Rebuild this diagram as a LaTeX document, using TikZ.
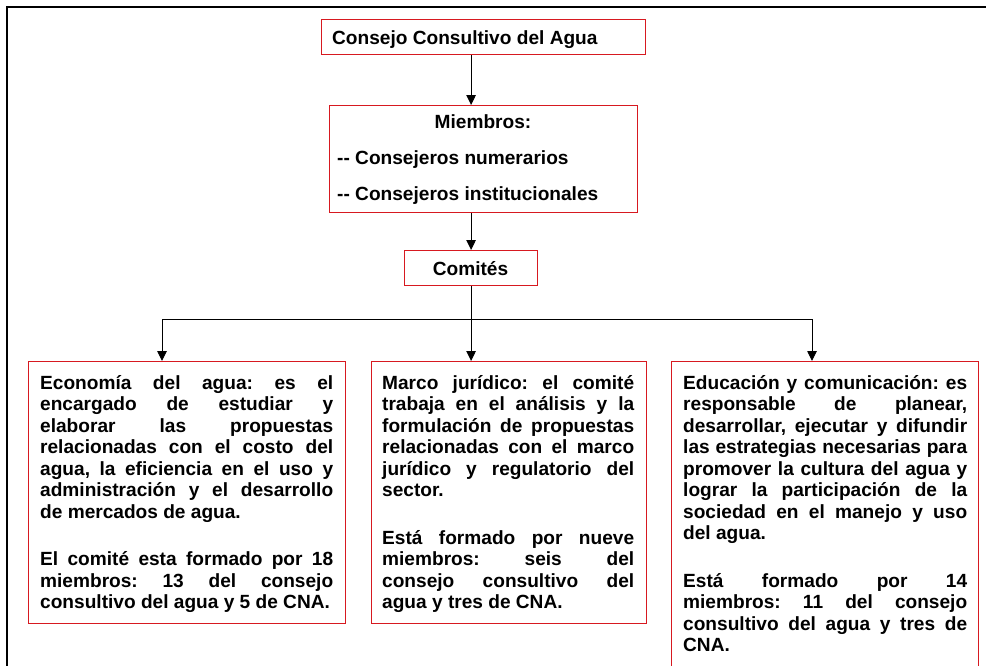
\documentclass[tikz,border=0pt]{standalone}
\usepackage{fontspec}
\setmainfont{Liberation Sans}
\usetikzlibrary{arrows.meta}
\definecolor{boxred}{RGB}{215,25,32}
\newcommand\cbfont{\fontsize{19.1}{21.5}\selectfont\bfseries\frenchspacing\hyphenpenalty=10000\exhyphenpenalty=10000\tolerance=10000\parindent=0pt}
\newcommand\pgap{\par\vspace{26pt}}
\begin{document}
\begin{tikzpicture}[x=1pt,y=-1pt,
  rbox/.style={draw=boxred,line width=1.2pt,inner sep=0pt,anchor=north west},
  txt/.style={inner sep=0pt,font=\cbfont},
  para/.style={txt,anchor=base west,align=justify},
  wire/.style={draw=black,line width=0.9pt},
  conn/.style={wire,-{Triangle[length=10pt,width=9.5pt]}}]
\useasboundingbox (0,0) rectangle (986,665);
% outer frame
\draw[line width=2.6pt] (7,700) -- (7,7) -- (1000,7);
% boxes
\node[rbox,minimum width=324,minimum height=35] (cca) at (321,19) {};
\node[rbox,minimum width=308,minimum height=107] (mem) at (329,105) {};
\node[rbox,minimum width=133,minimum height=35] (com) at (404,250) {};
\node[rbox,minimum width=317,minimum height=262] (eco) at (28,361) {};
\node[rbox,minimum width=275,minimum height=262] (jur) at (371,361) {};
\node[rbox,minimum width=307,minimum height=340] (edu) at (671,361) {};
% texts
\node[txt,anchor=base west] (cca-t) at (332,44) {Consejo Consultivo del Agua};
\node[txt,anchor=base] (mem-t1) at (483,128) {Miembros:};
\node[txt,anchor=base west] (mem-t2) at (337,164) {-{}- Consejeros numerarios};
\node[txt,anchor=base west] (mem-t3) at (337,200) {-{}- Consejeros institucionales};
\node[txt,anchor=base] (com-t) at (470.5,275) {Comités};
\node[para,text width=293] (eco-t) at (40,389) {Economía del agua: es el\linebreak encargado de estudiar y\linebreak elaborar las propuestas\linebreak relacionadas con el costo del\linebreak agua, la eficiencia en el uso y\linebreak administración y el desarrollo\linebreak de mercados de agua.\pgap El comité esta formado por 18\linebreak miembros: 13 del consejo\linebreak consultivo del agua y 5 de CNA.};
\node[para,text width=252] (jur-t) at (382,389) {Marco jurídico: el comité\linebreak trabaja en el análisis y la\linebreak formulación de propuestas\linebreak relacionadas con el marco\linebreak jurídico y regulatorio del\linebreak sector.\pgap Está formado por nueve\linebreak miembros: seis del\linebreak consejo consultivo del\linebreak agua y tres de CNA.};
\node[para,text width=284] (edu-t) at (683,389) {Educación y comunicación: es\linebreak responsable de planear,\linebreak desarrollar, ejecutar y difundir\linebreak las estrategias necesarias para\linebreak promover la cultura del agua y\linebreak lograr la participación de la\linebreak sociedad en el manejo y uso\linebreak del agua.\pgap Está formado por 14\linebreak miembros: 11 del consejo\linebreak consultivo del agua y tres de\linebreak CNA.};
% connectors
\coordinate (bL) at (162,319);
\coordinate (bR) at (812,319);
\draw[conn] (cca.south -| com.north) -- (mem.north -| com.north);
\draw[conn] (mem.south -| com.north) -- (com.north);
\draw[conn] (com.south) -- (jur.north -| com.south);
\draw[wire] (bL) -- (bR);
\draw[conn] (bL) -- (bL |- eco.north);
\draw[conn] (bR) -- (bR |- edu.north);
\end{tikzpicture}
\end{document}
